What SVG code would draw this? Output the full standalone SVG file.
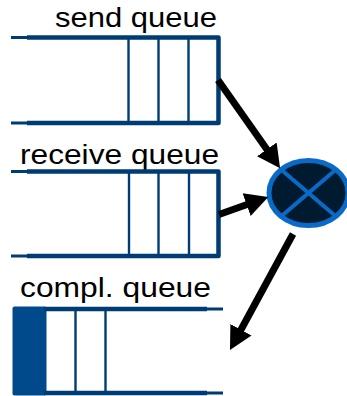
<svg xmlns="http://www.w3.org/2000/svg" width="347" height="396" viewBox="0 0 347 396">
<style>
.lbl{font-family:"Liberation Sans",Arial,sans-serif;font-size:28px;fill:#000}
.q{fill:none;stroke:#003c74;stroke-width:4.5;stroke-linejoin:round}
.stub{fill:none;stroke:#003c74;stroke-width:3}
.div{stroke:#003c74;stroke-width:2.4}
.arr{stroke:#000;stroke-width:7;fill:none}
</style>
<defs>
<marker id="ah" markerUnits="userSpaceOnUse" markerWidth="26" markerHeight="26" viewBox="0 -13 26 26" refX="2" refY="0" orient="auto">
<path d="M0,-12 L23,0 L0,12 z" fill="#000"/>
</marker>
</defs>
<rect width="347" height="396" fill="#fff"/>
<g id="send-queue">
<text class="lbl" x="55" y="27" textLength="162" lengthAdjust="spacingAndGlyphs">send queue</text>
<path class="q" d="M27,37.5 H218.5 V123 H27"/>
<path class="stub" d="M11,37.5 H28 M11,123 H28"/>
<line class="div" x1="128.5" y1="38" x2="128.5" y2="122"/>
<line class="div" x1="158.5" y1="38" x2="158.5" y2="122"/>
<line class="div" x1="188.5" y1="38" x2="188.5" y2="122"/>
</g>
<g id="receive-queue">
<text class="lbl" x="20" y="164" textLength="199" lengthAdjust="spacingAndGlyphs">receive queue</text>
<path class="q" d="M27,171.5 H218.5 V256 H27"/>
<path class="stub" d="M11,171.5 H28 M11,256 H28"/>
<line class="div" x1="129" y1="172" x2="129" y2="255"/>
<line class="div" x1="158.5" y1="172" x2="158.5" y2="255"/>
<line class="div" x1="189" y1="172" x2="189" y2="255"/>
</g>
<g id="compl-queue">
<text class="lbl" x="20" y="297" textLength="191" lengthAdjust="spacingAndGlyphs">compl. queue</text>
<rect x="12.5" y="306.5" width="34" height="89" rx="2" fill="#004a8c"/>
<path class="q" d="M44,309 H207 M44,393 H207"/>
<path class="stub" d="M205,309 H223 M205,393 H223"/>
<line class="div" x1="75.5" y1="309" x2="75.5" y2="393"/>
<line class="div" x1="105.5" y1="309" x2="105.5" y2="393"/>
</g>
<g id="mux">
<ellipse cx="308.5" cy="193" rx="39.5" ry="32.5" fill="#001a30" stroke="#0a6ac8" stroke-width="5"/>
<path d="M281,169.5 L336,216.5 M336,169.5 L281,216.5" stroke="#0a6ac8" stroke-width="4"/>
</g>
<g id="connectors">
<line class="arr" x1="218" y1="80" x2="268" y2="151" marker-end="url(#ah)"/>
<line class="arr" x1="219" y1="214.5" x2="248.5" y2="204" marker-end="url(#ah)"/>
<line class="arr" x1="293" y1="234" x2="240" y2="331.5" marker-end="url(#ah)"/>
</g>
</svg>
